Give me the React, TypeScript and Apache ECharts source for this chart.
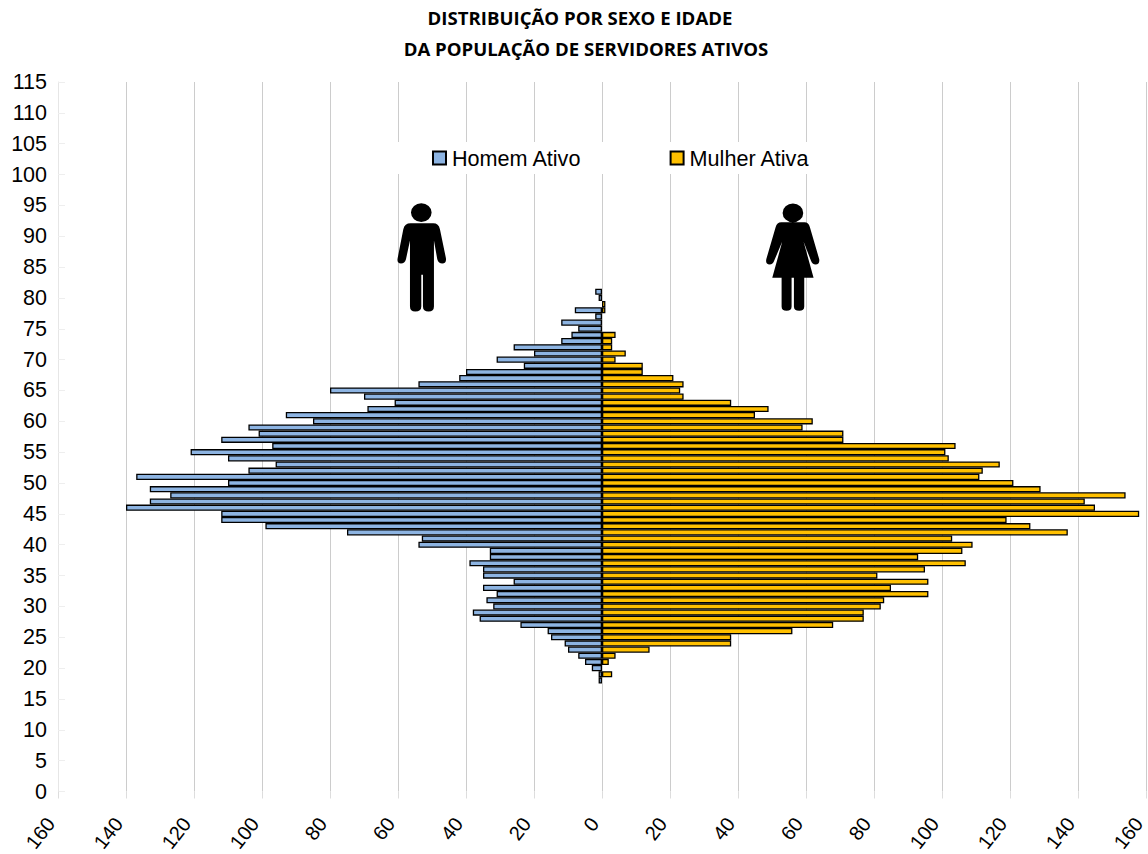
import React, { useEffect, useRef } from "react";
import * as echarts from "echarts";

const titleLine1 = "DISTRIBUIÇÃO POR SEXO E IDADE";
const titleLine2 = "DA POPULAÇÃO DE SERVIDORES ATIVOS";
const firstAge = 18;
// values from age 18 up to age 81
const homemAtivo = [1, 1, 3, 5, 7, 10, 11, 15, 16, 24, 36, 38, 32, 34, 31, 35, 26, 35, 35, 39, 33, 33, 54, 53, 75, 99, 112, 112, 140, 133, 127, 133, 110, 137, 104, 96, 110, 121, 97, 112, 101, 104, 85, 93, 69, 61, 70, 80, 54, 42, 40, 23, 31, 20, 26, 12, 9, 7, 12, 2, 8, 0, 1, 2];
const mulherAtiva = [0, 3, 0, 2, 4, 14, 38, 38, 56, 68, 77, 77, 82, 83, 96, 85, 96, 81, 95, 107, 93, 106, 109, 103, 137, 126, 119, 158, 145, 142, 154, 129, 121, 111, 112, 117, 102, 101, 104, 71, 71, 59, 62, 45, 49, 38, 24, 23, 24, 21, 12, 12, 4, 7, 3, 3, 4, 0, 0, 0, 1, 1, 0, 0];
const ages = Array.from({ length: 116 }, (_, i) => String(i));

const MAN = "M93 218A31 28 0 1 1 155 218A31 28 0 1 1 93 218Z M92 250L160 250Q176 250 180 268L198 355Q200 370 187 371Q176 371 172 358L162 302L162 500Q162 515 146 515Q129 515 129 500L129 405L124 405L124 500Q124 515 106 515Q90 515 90 500L90 302L78 358Q74 371 63 371Q50 370 53 355L70 268Q74 250 92 250Z";
const WOMAN = "M1209 219A31 28 0 1 1 1271 219A31 28 0 1 1 1209 219Z M1205 247L1275 247Q1287 247 1291 262L1319 358Q1321 373 1308 374Q1298 374 1294 362L1272 305L1302 414L1274 414L1274 500Q1274 513 1259 513Q1243 513 1243 500L1243 414L1236 414L1236 500Q1236 513 1221 513Q1206 513 1206 500L1206 414L1178 414L1208 305L1184 362Q1180 374 1170 374Q1157 373 1160 358L1188 262Q1192 247 1205 247Z";
echarts.graphic.registerShape("manFigure", echarts.graphic.extendPath(MAN, {}));
echarts.graphic.registerShape("womanFigure", echarts.graphic.extendPath(WOMAN, {}));

const pad = (vals: number[], sign: number) =>
  ages.map((_, age) => {
    const v = vals[age - firstAge];
    return v ? sign * v : null;
  });

export default function App() {
  const ref = useRef<HTMLDivElement>(null);
  useEffect(() => {
    const chart = echarts.init(ref.current!, undefined, { renderer: "svg" });
    const font = "'Liberation Sans', Arial, sans-serif";
    const grid = "#cccccc";
    const barStyle = (color: string) => ({ color, borderColor: "#000", borderWidth: 1.3 });
    chart.setOption({
      animation: false,
      backgroundColor: "#fff",
      title: [titleLine1, titleLine2].map((text, i) => ({
        text,
        left: i === 0 ? 580 : 586,
        top: i === 0 ? 8 : 39,
        textAlign: "center",
        padding: 0,
        textStyle: { fontFamily: "'Open Sans', sans-serif", fontWeight: "bold", fontSize: 18.6, color: "#000" },
      })),
      legend: {
        left: 390,
        top: 142,
        padding: [5, 12, 5, 42],
        backgroundColor: "#fff",
        icon: "rect",
        itemWidth: 13,
        itemHeight: 13,
        itemGap: 88,
        textStyle: { fontFamily: font, fontSize: 21.6, color: "#000", padding: [0, 0, 0, 1] },
        data: ["Homem Ativo", "Mulher Ativa"],
      },
      grid: { left: 58, right: 2, top: 82, bottom: 62.5, containLabel: false, outerBoundsMode: "none" },
      xAxis: {
        type: "value",
        min: -160,
        max: 160,
        interval: 20,
        axisLine: { show: false },
        axisTick: { show: true, length: 7, lineStyle: { color: "#dddddd" } },
        splitLine: { show: true, lineStyle: { color: grid, width: 1 } },
        axisLabel: {
          rotate: 52,
          margin: 19,
          padding: [0, 12, 0, 0],
          fontFamily: font,
          fontSize: 20,
          color: "#000",
          hideOverlap: false,
          showMinLabel: true,
          showMaxLabel: true,
          formatter: (v: number) => String(Math.abs(v)),
        },
      },
      yAxis: {
        type: "category",
        data: ages,
        boundaryGap: false,
        axisLine: { show: true, onZero: false, lineStyle: { color: "#e6e6e6" } },
        axisTick: { show: true, inside: true, length: 7, interval: 4, lineStyle: { color: "#eeeeee" } },
        splitLine: { show: false },
        axisLabel: { interval: 4, margin: 11, fontFamily: font, fontSize: 21.5, color: "#000" },
      },
      series: [
        {
          name: "Homem Ativo",
          type: "bar",
          data: pad(homemAtivo, -1),
          barWidth: 6.17,
          barGap: "-100%",
          itemStyle: barStyle("#8DB4E2"),
        },
        {
          name: "Mulher Ativa",
          type: "bar",
          data: pad(mulherAtiva, 1),
          barWidth: 6.17,
          barGap: "-100%",
          itemStyle: barStyle("#FFC000"),
        },
      ],
      graphic: [
        { type: "manFigure", x: 380, y: 140, scaleX: 1 / 3, scaleY: 1 / 3, z: 10, style: { fill: "#000" } },
        { type: "womanFigure", x: 380, y: 140, scaleX: 1 / 3, scaleY: 1 / 3, z: 10, style: { fill: "#000" } },
      ],
    });
    return () => chart.dispose();
  }, []);
  return <div ref={ref} style={{ position: "absolute", left: 0, top: 0, width: 1148, height: 854 }} />;
}
